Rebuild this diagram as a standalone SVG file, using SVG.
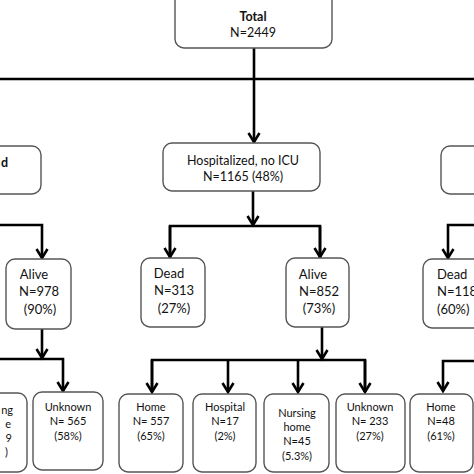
<svg xmlns="http://www.w3.org/2000/svg" width="474" height="474" viewBox="0 0 474 474">
<style>
.box{fill:#fff;stroke:#555;stroke-width:1.4}
.c{fill:none;stroke:#000;stroke-width:2.6}
text{font-family:Lato,"Open Sans","Liberation Sans",sans-serif;fill:#111;text-anchor:middle}
.t1{font-size:12.5px}
.b{font-weight:bold}
.t2{font-size:13px}
.t3{font-size:11px}
.e{text-anchor:end}
</style>
<defs>
<marker id="ah" markerUnits="userSpaceOnUse" orient="auto" refX="0" refY="0" markerWidth="20" markerHeight="20" overflow="visible">
<path d="M-9,-5.5 L0,0 L-9,5.5" fill="none" stroke="#000" stroke-width="2.6" stroke-linejoin="miter"/>
</marker>
</defs>
<rect width="474" height="474" fill="#fff"/>
<g id="connectors">
<path class="c" d="M254 48 V79 M0 79 H474"/>
<path class="c" d="M254 79 V142" marker-end="url(#ah)"/>
<path class="c" d="M253 191 V225" marker-end="url(#ah)"/>
<path class="c" d="M170 258 V226 H320 V258" />
<path class="c" d="M170 226 V257" marker-end="url(#ah)"/>
<path class="c" d="M320 226 V257" marker-end="url(#ah)"/>
<path class="c" d="M0 225 H42 V258" marker-end="url(#ah)"/>
<path class="c" d="M474 225 H448 V258" marker-end="url(#ah)"/>
<path class="c" d="M42 329 V358" marker-end="url(#ah)"/>
<path class="c" d="M0 359 H63 V391" marker-end="url(#ah)"/>
<path class="c" d="M322 327 V359" marker-end="url(#ah)"/>
<path class="c" d="M152 392 V360 H365 V392"/>
<path class="c" d="M152 360 V392" marker-end="url(#ah)"/>
<path class="c" d="M228 360 V392" marker-end="url(#ah)"/>
<path class="c" d="M298 360 V392" marker-end="url(#ah)"/>
<path class="c" d="M365 360 V392" marker-end="url(#ah)"/>
<path class="c" d="M474 361 H443 V391" marker-end="url(#ah)"/>
</g>
<g id="total">
<rect class="box" x="175" y="-8" width="157" height="56" rx="9"/>
<text class="t1 b" x="253" y="21">Total</text>
<text class="t1" x="253" y="37">N=2449</text>
</g>
<g id="hospitalized">
<rect class="box" x="163" y="143" width="157" height="48" rx="9"/>
<text class="t1" x="243" y="165">Hospitalized, no ICU</text>
<text class="t1" x="243" y="181">N=1165 (48%)</text>
</g>
<g id="left-top">
<rect class="box" x="-60" y="146" width="101" height="48" rx="9"/>
<text class="t1 b e" x="8" y="167">d</text>
</g>
<g id="right-top">
<rect class="box" x="441" y="146" width="80" height="48" rx="9"/>
</g>
<g id="left-alive">
<rect class="box" x="6" y="259" width="65" height="70" rx="9"/>
<text class="t2" x="34" y="279">Alive</text>
<text class="t2" x="39" y="296">N=978</text>
<text class="t2" x="40" y="314">(90%)</text>
</g>
<g id="mid-dead">
<rect class="box" x="141" y="258" width="64" height="69" rx="9"/>
<text class="t2" x="169" y="278">Dead</text>
<text class="t2" x="174" y="295">N=313</text>
<text class="t2" x="174" y="313">(27%)</text>
</g>
<g id="mid-alive">
<rect class="box" x="286" y="258" width="63" height="69" rx="9"/>
<text class="t2" x="313" y="279">Alive</text>
<text class="t2" x="319" y="296">N=852</text>
<text class="t2" x="319" y="313">(73%)</text>
</g>
<g id="right-dead">
<rect class="box" x="423" y="259" width="70" height="69" rx="9"/>
<text class="t2" x="437" y="279" style="text-anchor:start">Dead</text>
<text class="t2" x="437" y="296" style="text-anchor:start">N=118</text>
<text class="t2" x="437" y="314" style="text-anchor:start">(60%)</text>
</g>
<g id="left-nursing">
<rect class="box" x="-40" y="393" width="67" height="79" rx="9"/>
<text class="t3 e" x="13" y="414">ng</text>
<text class="t3 e" x="11" y="428">e</text>
<text class="t3 e" x="12" y="442">9</text>
<text class="t3 e" x="8" y="456">)</text>
</g>
<g id="left-unknown">
<rect class="box" x="33" y="392" width="70" height="78" rx="9"/>
<text class="t3" x="68" y="411">Unknown</text>
<text class="t3" x="68" y="425">N= 565</text>
<text class="t3" x="68" y="440">(58%)</text>
</g>
<g id="home">
<rect class="box" x="119" y="394" width="64" height="78" rx="9"/>
<text class="t3" x="151" y="411">Home</text>
<text class="t3" x="151" y="425">N= 557</text>
<text class="t3" x="151" y="440">(65%)</text>
</g>
<g id="hospital">
<rect class="box" x="193" y="394" width="63" height="78" rx="9"/>
<text class="t3" x="225" y="411">Hospital</text>
<text class="t3" x="225" y="425">N=17</text>
<text class="t3" x="225" y="440">(2%)</text>
</g>
<g id="nursing-home">
<rect class="box" x="264" y="394" width="65" height="78" rx="9"/>
<text class="t3" x="297" y="417">Nursing</text>
<text class="t3" x="297" y="431">home</text>
<text class="t3" x="297" y="445">N=45</text>
<text class="t3" x="297" y="460">(5.3%)</text>
</g>
<g id="mid-unknown">
<rect class="box" x="336" y="394" width="69" height="78" rx="9"/>
<text class="t3" x="370" y="411">Unknown</text>
<text class="t3" x="370" y="425">N= 233</text>
<text class="t3" x="370" y="440">(27%)</text>
</g>
<g id="right-home">
<rect class="box" x="410" y="394" width="63" height="78" rx="9"/>
<text class="t3" x="441" y="411">Home</text>
<text class="t3" x="441" y="425">N=48</text>
<text class="t3" x="441" y="440">(61%)</text>
</g>
</svg>
